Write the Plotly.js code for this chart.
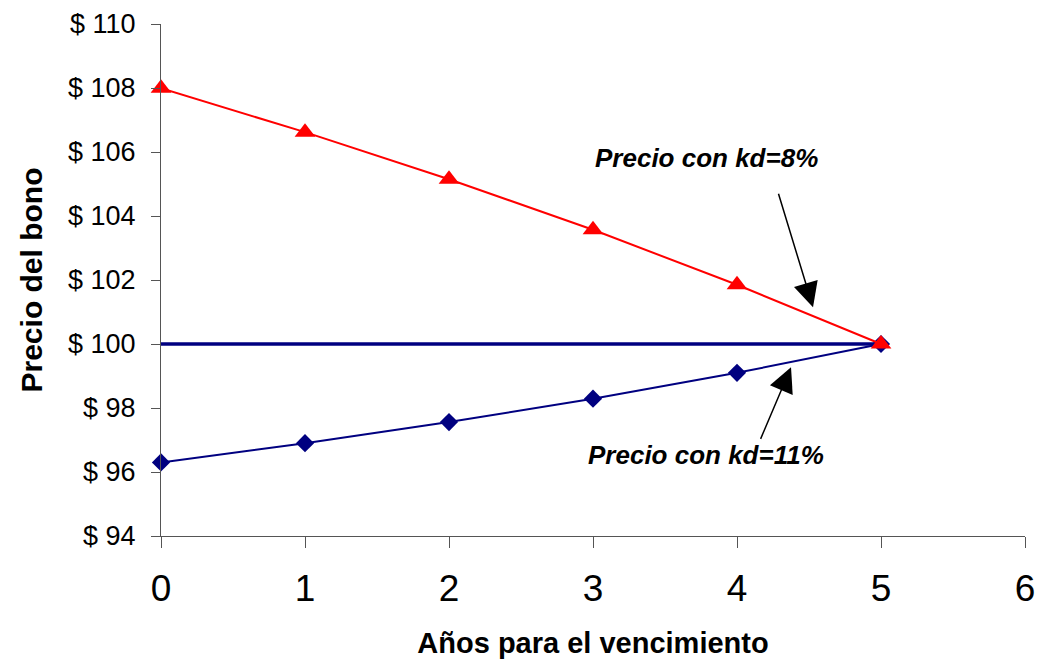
<!DOCTYPE html>
<html>
<head>
<meta charset="utf-8">
<script src="https://cdn.plot.ly/plotly-3.0.1.min.js"></script>
<style>html,body{margin:0;padding:0;background:#fff;}#chart{width:1043px;height:659px;}</style>
</head>
<body>
<div id="chart"></div>
<script>
// Data
const years = [0, 1, 2, 3, 4, 5];
const precioKd8 = [107.99, 106.62, 105.15, 103.57, 101.85, 100.00];
const precioKd11 = [96.30, 96.90, 97.56, 98.29, 99.10, 100.00];
const parYears = [0, 5];
const parValue = [100, 100];
const xTitle = 'Años para el vencimiento';
const yTitle = 'Precio del bono';
const label8 = 'Precio con kd=8%';
const label11 = 'Precio con kd=11%';

const FONT = 'Liberation Sans, Arial, sans-serif';

const traces = [
  { x: parYears, y: parValue, mode: 'lines', line: {color: '#000080', width: 3.5},
    showlegend: false, hoverinfo: 'skip', cliponaxis: false },
  { x: years, y: precioKd11, mode: 'lines+markers', name: label11,
    line: {color: '#000080', width: 2}, marker: {symbol: 'diamond', size: 14, color: '#000080'},
    showlegend: false, cliponaxis: false },
  { x: years, y: precioKd8, mode: 'lines+markers', name: label8,
    line: {color: '#ff0000', width: 2}, marker: {symbol: 'triangle-up', size: 18, color: '#ff0000'},
    showlegend: false, cliponaxis: false }
];

const layout = {
  width: 1043, height: 659,
  margin: {l: 161, r: 18, t: 24, b: 123},
  paper_bgcolor: '#fff', plot_bgcolor: '#fff',
  font: {family: FONT, color: '#000'},
  showlegend: false,
  xaxis: {
    range: [0, 6], dtick: 1, tick0: 0,
    showgrid: false, zeroline: false,
    showline: true, linecolor: '#555', linewidth: 1,
    ticks: 'outside', ticklen: 11, tickcolor: '#555', tickwidth: 1,
    tickfont: {family: FONT, size: 37, color: '#000'},
    ticklabelstandoff: 9,
    title: {text: xTitle, font: {family: FONT, size: 29, weight: 'bold', color: '#000'}, standoff: 32}
  },
  yaxis: {
    range: [94, 110], dtick: 2, tick0: 94, tickprefix: '$ ',
    showgrid: false, zeroline: false,
    showline: true, linecolor: '#555', linewidth: 1,
    ticks: 'outside', ticklen: 9, tickcolor: '#555', tickwidth: 1,
    tickfont: {family: FONT, size: 27, color: '#000'},
    ticklabelstandoff: 10,
    title: {text: yTitle, font: {family: FONT, size: 30, weight: 'bold', color: '#000'}, standoff: 16}
  },
  annotations: [
    { x: 3.79, y: 105.81, xref: 'x', yref: 'y', text: '<b><i>' + label8 + '</i></b>',
      showarrow: false, font: {family: FONT, size: 26, color: '#000'} },
    { x: 3.785, y: 96.52, xref: 'x', yref: 'y', text: '<b><i>' + label11 + '</i></b>',
      showarrow: false, font: {family: FONT, size: 26, color: '#000'} },
    { x: 4.528, y: 101.15, xref: 'x', yref: 'y', text: '', showarrow: true,
      ax: -35, ay: -115, arrowhead: 2, arrowwidth: 1.5, arrowsize: 3.3, arrowcolor: '#000', standoff: 0 },
    { x: 4.375, y: 99.27, xref: 'x', yref: 'y', text: '', showarrow: true,
      ax: -31, ay: 73, arrowhead: 2, arrowwidth: 1.5, arrowsize: 3.3, arrowcolor: '#000', standoff: 0 }
  ]
};

Plotly.newPlot('chart', traces, layout, {displayModeBar: false, staticPlot: true});
</script>
</body>
</html>
